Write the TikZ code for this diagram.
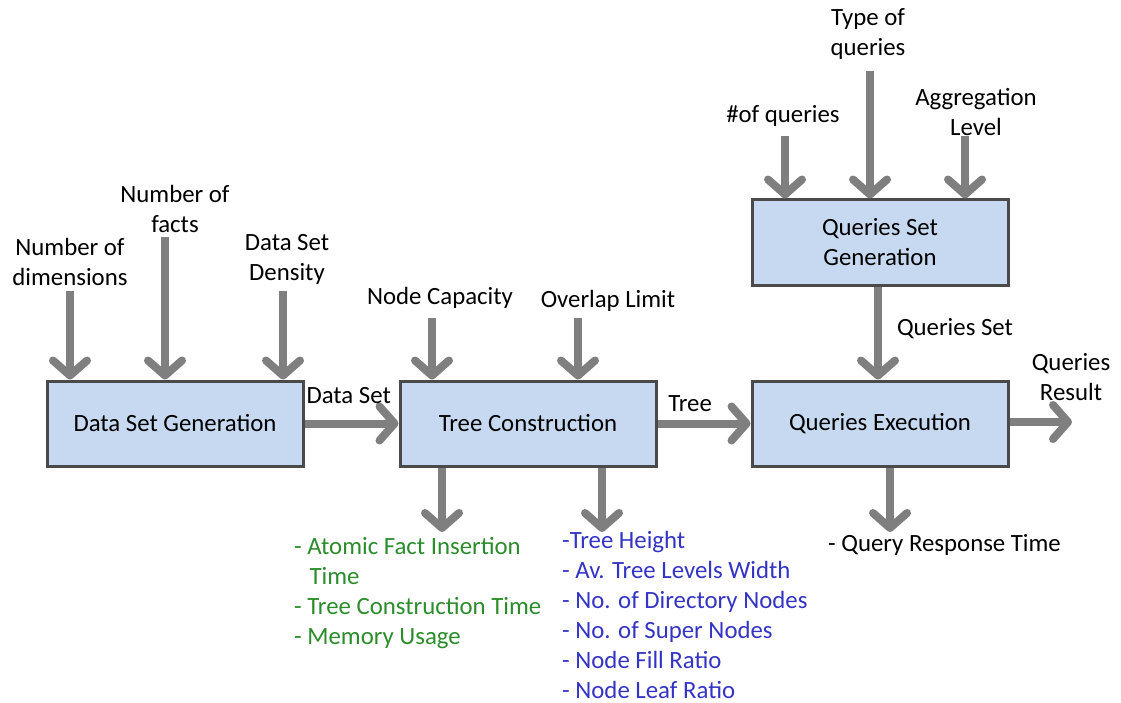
\documentclass[tikz,border=0pt]{standalone}
\usepackage{fontspec}
\setmainfont{Carlito}
\usetikzlibrary{arrows.meta,calc}
\definecolor{boxfill}{HTML}{C6D9F1}
\definecolor{boxline}{HTML}{4A4A4A}
\definecolor{arrgray}{HTML}{7F7F7F}
\definecolor{outgreen}{HTML}{2A8C2A}
\definecolor{outblue}{HTML}{3333C4}

\begin{document}
\begin{tikzpicture}[x=1pt,y=-1pt,
    font=\fontsize{24.8}{30}\selectfont,
    blk/.style={draw=boxline,line width=3pt,fill=boxfill,minimum width=256pt,minimum height=85pt,align=center,inner sep=0pt},
    arr/.style={draw=arrgray,line width=8pt,-{Straight Barb[length=15pt,width=34pt,round]}},
    lbl/.style={align=center,inner sep=0pt}]
            \useasboundingbox(0,0)rectangle(1121,703);
            % boxes
            \node[blk](dsg)at(175,423.5){Data Set Generation};
            \node[blk](tc)at(528,423.5){Tree Construction};
            \node[blk](qe)at(880,423.5){Queries Execution};
            \node[blk](qsg)at(880,242.5){Queries Set\\Generation};
            % labels of the inputs
            \node[lbl](ndim)at(70,262){Number of\\dimensions};
            \node[lbl](nfact)at(175,209){Number of\\facts};
            \node[lbl](dens)at(287,259){Data Set\\Density};
            \node[lbl](ncap)at(440,298){Node Capacity};
            \node[lbl](olim)at(608,301){Overlap Limit};
            \node[lbl](nq)at(783,116){\#of queries};
            \node[lbl](tq)at(868,34){Type of\\queries};
            \node[lbl](agg)at(976,112){Aggregation\\Level};
            % tails of the arrows
            \coordinate(a1)at(70,291);
            \coordinate(a2)at(165,237);
            \coordinate(a3)at(283,291);
            \coordinate(a4)at(432,318);
            \coordinate(a5)at(578,318);
            \coordinate(a6)at(785,136);
            \coordinate(a7)at(870,71);
            \coordinate(a8)at(965,136);
            % inputs
            \path[arr](a1)to(a1|-dsg.north);
            \path[arr](a2)to(a2|-dsg.north);
            \path[arr](a3)to(a3|-dsg.north);
            \path[arr](a4)to(a4|-tc.north);
            \path[arr](a5)to(a5|-tc.north);
            \path[arr](a6)to(a6|-qsg.north);
            \path[arr](a7)to(a7|-qsg.north);
            \path[arr](a8)to(a8|-qsg.north);
            % flow between boxes
            \path[arr](dsg.east)to node[lbl,above=16pt,pos=0.47]{Data Set}(tc.west);
            \path[arr](tc.east)to node[lbl,above=8pt,pos=0.35]{Tree}(qe.west);
            \path[arr](qsg.south-|878,0)to node[lbl,right=15pt,pos=0.45](qset){Queries Set}(878,0|-qe.north);
            \coordinate(res)at(1072,422);
            \path[arr](qe.east|-res)to(res);
            \node[lbl](qres)at(1071,377){Queries\\Result};
            % outputs
            \coordinate(o1)at(442,532);
            \coordinate(o2)at(602,532);
            \coordinate(o3)at(890,532);
            \path[arr](o1|-tc.south)to(o1);
            \path[arr](o2|-tc.south)to(o2);
            \path[arr](o3|-qe.south)to(o3);
            % measured values
            \node[anchor=north west,align=left,inner sep=0pt,text=outgreen](mgreen)at(294,537){- Atomic Fact Insertion\\\hspace*{0.62em}Time\\- Tree Construction Time\\- Memory Usage};
            \node[anchor=north west,align=left,inner sep=0pt,text=outblue](mblue)at(562,531){-Tree Height\\- Av. Tree Levels Width\\- No. of Directory Nodes\\- No. of Super Nodes\\- Node Fill Ratio\\- Node Leaf Ratio};
            \node[anchor=north west,align=left,inner sep=0pt](mresp)at(828,534){- Query Response Time};
        \end{tikzpicture}
\end{document}
